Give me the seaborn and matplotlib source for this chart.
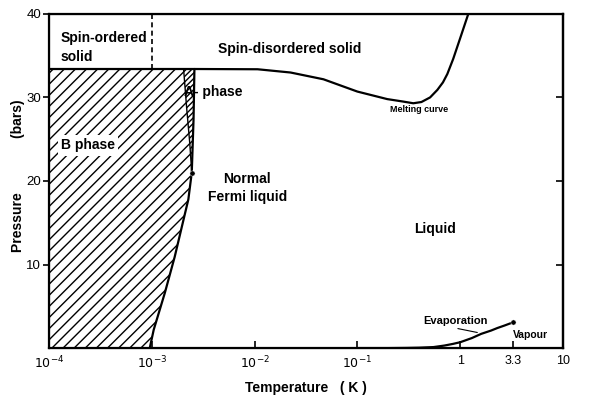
import matplotlib
matplotlib.use("Agg")
import matplotlib.pyplot as plt
import seaborn as sns
import numpy as np

# Courbe de fusion (T en K, P en bar)
melt_T = [1e-4, 2.6e-3, 0.0107, 0.0224, 0.0468, 0.1, 0.195, 0.28, 0.35, 0.42, 0.51, 0.6, 0.68, 0.75, 0.855, 1.02, 1.2]
melt_P = [33.4, 33.4, 33.37, 32.98, 32.17, 30.7, 29.8, 29.5, 29.3, 29.45, 30.0, 30.9, 31.8, 32.8, 34.6, 37.4, 40.0]

# Courbe d'évaporation
evap_T = [0.1, 0.2, 0.3, 0.4, 0.55, 0.7, 0.85, 1.0, 1.3, 1.6, 2.0, 2.3, 2.7, 3.3]
evap_P = [0.0, 0.0, 0.02, 0.05, 0.12, 0.3, 0.5, 0.7, 1.2, 1.7, 2.1, 2.4, 2.7, 3.1]

# Ligne Tc (normal -> superfluide)
tc_P = [0.0, 2.2, 6.6, 10.9, 15.4, 17.8, 21.0, 27.4, 33.4]
tc_T = [0.956e-3, 1.045e-3, 1.34e-3, 1.67e-3, 2.04e-3, 2.27e-3, 2.45e-3, 2.55e-3, 2.6e-3]

# Ligne A-B
ab_P = [21.0, 24.6, 28.6, 33.4]
ab_T = [2.45e-3, 2.34e-3, 2.19e-3, 2.04e-3]

# Points remarquables
pcp = (2.45e-3, 21.0)
crit = (3.3, 3.1)
P_solid = 33.4
T_spin = 1e-3

xticks = [1e-4, 1e-3, 1e-2, 1e-1, 1, 3.3, 10]
xticklabels = ["$10^{-4}$", "$10^{-3}$", "$10^{-2}$", "$10^{-1}$", "1", "3.3", "10"]
yticks = [10, 20, 30, 40]

sns.set_style("ticks")
plt.rcParams['font.family'] = ['Liberation Sans', 'DejaVu Sans']
plt.rcParams['hatch.linewidth'] = 1.0
for k in ['text.color', 'axes.labelcolor', 'xtick.color', 'ytick.color', 'axes.edgecolor']:
    plt.rcParams[k] = 'black'

fig = plt.figure(figsize=(5.97, 3.96), dpi=100)
ax = fig.add_axes([0.082, 0.121, 0.861, 0.844])
ax.set_xscale('log')

# Zones hachurées : phase B et phase A
n_pcp = tc_P.index(pcp[1])
P_b = np.array(tc_P[:n_pcp + 1] + ab_P[1:])
T_b = np.array(tc_T[:n_pcp + 1] + ab_T[1:])
ax.fill_betweenx(P_b, 1e-4, T_b, facecolor='none', edgecolor='black', hatch='///', linewidth=0)
ax.fill_betweenx(ab_P, ab_T, np.interp(ab_P, tc_P, tc_T), facecolor='none',
                 edgecolor='black', hatch='//////', linewidth=0)

lw = 1.6
sns.lineplot(x=melt_T, y=melt_P, color='black', linewidth=lw, sort=False, estimator=None, ax=ax)
sns.lineplot(x=evap_T, y=evap_P, color='black', linewidth=lw, sort=False, estimator=None, ax=ax)
sns.lineplot(x=tc_T, y=tc_P, color='black', linewidth=lw, sort=False, estimator=None, ax=ax)
sns.lineplot(x=ab_T, y=ab_P, color='black', linewidth=1.0, sort=False, estimator=None, ax=ax)
ax.plot([T_spin, T_spin], [P_solid, 40], color='black', linestyle=(0, (3, 2)), linewidth=1.2)
sns.scatterplot(x=[pcp[0], crit[0]], y=[pcp[1], crit[1]], color='black', s=14, ax=ax, zorder=5)

ax.set_xlim(1e-4, 10)
ax.set_ylim(0, 40)
ax.set_xticks(xticks)
ax.set_xticklabels(xticklabels)
ax.xaxis.set_minor_locator(matplotlib.ticker.NullLocator())
ax.set_yticks(yticks)
ax.tick_params(axis='x', direction='in', length=5, width=1.2, labelsize=9, pad=5)
ax.tick_params(axis='y', direction='out', length=4, width=1.2, labelsize=9.5, pad=1.5)
for sp in ax.spines.values():
    sp.set_visible(True)
    sp.set_linewidth(1.6)

# Graduations intérieures sur l'axe de droite
ax2 = ax.twinx()
ax2.set_ylim(0, 40)
ax2.set_yticks(yticks)
ax2.tick_params(axis='y', direction='in', length=5, width=1.2, labelright=False)
ax2.spines['right'].set_linewidth(1.6)

fs = 10
kw = dict(fontsize=fs, fontweight='bold')
ax.text(1.31e-4, 36.0, "Spin-ordered\nsolid", va='center', ha='left', linespacing=1.45, **kw)
ax.text(0.022, 35.8, "Spin-disordered solid", ha='center', va='center', **kw)
ax.text(2.07e-3, 30.6, "A- phase", ha='left', va='center', **kw)
ax.text(1.31e-4, 24.25, "B phase", ha='left', va='center',
        bbox=dict(facecolor='white', edgecolor='none', pad=2.5), **kw)
ax.text(8.5e-3, 20.2, "Normal", ha='center', va='center', **kw)
ax.text(8.5e-3, 18.1, "Fermi liquid", ha='center', va='center', **kw)
ax.text(0.4, 28.6, "Melting curve", ha='center', va='center', fontsize=6.5, fontweight='bold')
ax.text(0.57, 14.2, "Liquid", ha='center', va='center', **kw)
ax.text(0.9, 3.24, "Evaporation", ha='center', va='center', fontsize=8, fontweight='bold')
ax.annotate("", xy=(1.56, 1.8), xytext=(0.894, 2.4),
            arrowprops=dict(arrowstyle='-', color='black', linewidth=0.8))
ax.text(4.8, 1.56, "Vapour", ha='center', va='center', fontsize=7.5, fontweight='bold')

ax.set_xlabel("Temperature   ( K )", fontsize=fs, fontweight='bold', labelpad=7)
ax.set_ylabel("Pressure" + " " * 14 + "(bars)", fontsize=fs, fontweight='bold')
ax.yaxis.set_label_coords(-0.047, 0.515)

fig.savefig("out.png", dpi=100)
